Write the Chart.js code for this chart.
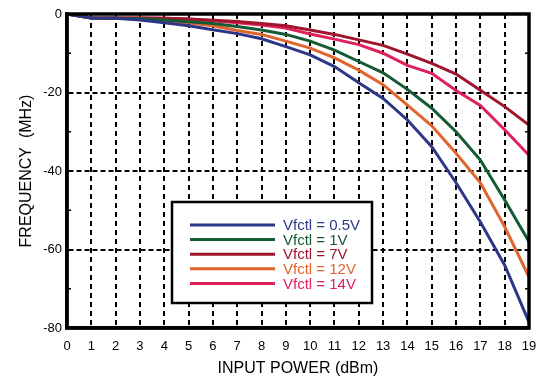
<!DOCTYPE html>
<html>
<head>
<meta charset="utf-8">
<script src="https://cdn.jsdelivr.net/npm/chart.js@4"></script>
<style>
  html, body { margin: 0; padding: 0; background: #fff; }
  #wrap { width: 542px; height: 379px; }
</style>
</head>
<body>
<div id="wrap"><canvas id="freq"></canvas></div>
<script>
const inputPower = [0, 1, 2, 3, 4, 5, 6, 7, 8, 9, 10, 11, 12, 13, 14, 15, 16, 17, 18, 19];

const v05 = [0, -1, -1.1, -1.5, -2.2, -3, -4, -5, -6.3, -8.3, -10.4, -13.4, -17.5, -21.5, -27, -33.8, -43, -53, -64, -78.5];
const v1 = [0, -1, -1.1, -1.2, -1.5, -2, -2.4, -3.2, -4.1, -5.2, -6.9, -9.2, -12.1, -15, -19.2, -24, -30, -37.2, -47.4, -58];
const v7 = [0, -1, -1, -1, -1.1, -1.3, -1.6, -1.9, -2.4, -3, -4.1, -5.2, -6.6, -8, -10.2, -12.6, -15.3, -19.4, -23.6, -28.3];
const v12 = [0, -1, -1.1, -1.3, -1.8, -2.3, -3, -4.2, -5.2, -6.9, -8.7, -11.2, -14.3, -18, -23.2, -28.5, -35.5, -43, -54.2, -67];
const v14 = [0, -1, -1, -1, -1.1, -1.3, -1.7, -2.2, -2.8, -3.6, -5.1, -6.4, -7.8, -10, -13.1, -15.1, -19.5, -23.3, -29.5, -36];

const seriesLabels = ['Vfctl = 0.5V', 'Vfctl = 1V', 'Vfctl = 7V', 'Vfctl = 12V', 'Vfctl = 14V'];
const seriesColors = ['rgb(45,55,135)', 'rgb(20,90,50)', 'rgb(160,20,45)', 'rgb(225,100,45)', 'rgb(225,32,90)'];
const seriesData = [v05, v1, v7, v12, v14];

const FONT = '"Liberation Sans", Arial, Helvetica, sans-serif';

// box around the plot, minor ticks on y, and the legend box
const framePlugin = {
  id: 'frame',
  afterDatasetsDraw(chart) {
    const ctx = chart.ctx;
    const a = chart.chartArea;
    const ys = chart.scales.y;
    ctx.save();
    ctx.strokeStyle = '#000';
    ctx.lineWidth = 1.5;
    [-10, -30, -50, -70].forEach(v => {
      const py = ys.getPixelForValue(v);
      ctx.beginPath();
      ctx.moveTo(a.left, py); ctx.lineTo(a.left + 4, py);
      ctx.moveTo(a.right, py); ctx.lineTo(a.right - 4, py);
      ctx.stroke();
    });
    ctx.lineWidth = 3.5;
    ctx.strokeRect(a.left, a.top, a.right - a.left, a.bottom - a.top);

    // legend
    const bx = a.left + 105, by = a.top + 188, bw = 200, bh = 101;
    ctx.fillStyle = '#fff';
    ctx.fillRect(bx, by, bw, bh);
    ctx.lineWidth = 2.5;
    ctx.strokeRect(bx, by, bw, bh);
    ctx.font = '15px ' + FONT;
    ctx.textBaseline = 'middle';
    ctx.textAlign = 'left';
    seriesLabels.forEach((lab, i) => {
      const ly = by + 23 + i * 14.6;
      ctx.strokeStyle = seriesColors[i];
      ctx.lineWidth = 3;
      ctx.beginPath();
      ctx.moveTo(bx + 18, ly); ctx.lineTo(bx + 103, ly);
      ctx.stroke();
      ctx.fillStyle = seriesColors[i];
      ctx.fillText(lab, bx + 111, ly + 1);
    });
    ctx.restore();
  }
};

const isMajorY = v => v % 20 === 0 && v > -80 && v < 0;

new Chart(document.getElementById('freq'), {
  type: 'line',
  data: {
    labels: inputPower,
    datasets: seriesData.map((d, i) => ({
      label: seriesLabels[i],
      data: d.map((v, j) => ({ x: inputPower[j], y: v })),
      borderColor: seriesColors[i],
      backgroundColor: seriesColors[i],
      borderWidth: 3,
      pointRadius: 0,
      tension: 0
    }))
  },
  options: {
    responsive: true,
    maintainAspectRatio: false,
    animation: false,
    layout: { padding: { top: 14, right: 13, left: 0, bottom: 0 } },
    plugins: {
      legend: { display: false },
      tooltip: { enabled: false }
    },
    scales: {
      x: {
        type: 'linear',
        min: 0,
        max: 19,
        afterFit: s => { s.height = 51; },
        ticks: {
          stepSize: 1,
          color: '#000',
          font: { family: FONT, size: 13 },
          padding: 5
        },
        grid: {
          drawTicks: true,
          tickLength: 6,
          tickColor: 'rgba(0,0,0,0)',
          lineWidth: 2,
          color: c => (c.tick.value > 0 && c.tick.value < 19) ? '#000' : 'rgba(0,0,0,0)'
        },
        border: { display: true, color: '#000', width: 3.5, dash: [5, 4] },
        title: {
          display: true,
          text: 'INPUT POWER (dBm)',
          color: '#000',
          font: { family: FONT, size: 16 },
          padding: { top: 2, bottom: 1 }
        }
      },
      y: {
        min: -80,
        max: 0,
        afterFit: s => { s.width = 67; },
        ticks: {
          stepSize: 10,
          color: '#000',
          font: { family: FONT, size: 13 },
          padding: 5,
          callback: v => (v % 20 === 0 ? v : '')
        },
        grid: {
          drawTicks: false,
          lineWidth: 2,
          color: c => isMajorY(c.tick.value) ? '#000' : 'rgba(0,0,0,0)'
        },
        border: { display: true, color: '#000', width: 3.5, dash: [5, 3] },
        title: {
          display: true,
          text: 'FREQUENCY  (MHz)',
          color: '#000',
          font: { family: FONT, size: 16 },
          padding: { top: 17, bottom: 2 }
        }
      }
    }
  },
  plugins: [framePlugin]
});
</script>
</body>
</html>
